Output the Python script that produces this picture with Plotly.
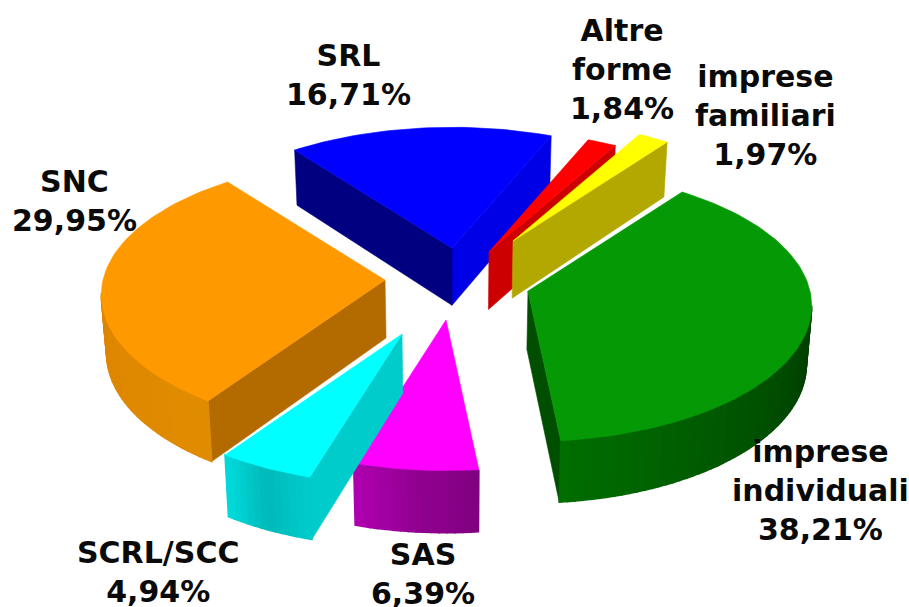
import numpy as np
import plotly.graph_objects as go

# --- data ---
names = ["imprese<br>individuali", "SAS", "SCRL/SCC", "SNC", "SRL", "Altre<br>forme", "imprese<br>familiari"]
values = [38.21, 6.39, 4.94, 29.95, 16.71, 1.84, 1.97]
value_text = ["38,21%", "6,39%", "4,94%", "29,95%", "16,71%", "1,84%", "1,97%"]

# --- style ---
top_colors = ["#059a05", "#ff00ff", "#00ffff", "#ff9900", "#0000ff", "#ff0000", "#ffff00"]
start_face = ["#004f00", "#a000a0", "#00cccc", "#b36b00", "#000080", "#cc0000", "#b3a800"]
end_face = ["#004f00", "#800080", "#00cccc", "#b36b00", "#0000e6", "#cc0000", "#b3a800"]
arc_from = [(0, 85, 0), (128, 0, 128), (0, 205, 205), (224, 140, 0), (0, 0, 130), (170, 0, 0), (180, 170, 0)]
arc_mid = [(0, 64, 0), (145, 0, 145), (0, 185, 185), (222, 132, 0), (0, 0, 130), (170, 0, 0), (180, 170, 0)]
arc_to = [(0, 110, 0), (176, 0, 176), (0, 220, 220), (215, 135, 0), (0, 0, 130), (170, 0, 0), (180, 170, 0)]

# --- layout of the exploded pie, in page pixels ---
apex_x = [528, 446, 402, 385, 452, 489, 513]
apex_y = [291, 320, 334, 280, 248, 252, 241]
label_x = [820, 423, 158, 74, 348, 622, 765]
label_y = [490, 574, 572, 201, 75, 69, 115]
START_DEG = 53.5
RX, RY, PERSP = 282.0, 134.0, 0.11
W, H = 909, 607


def project(ax, ay, deg):
    t = np.radians(deg)
    u, v = np.cos(t), np.sin(t)
    s = 1.0 / (1.0 + PERSP * v)
    return ax + RX * u * s, ay - RY * v * s


def drop(x, y):
    return W / 2 + (x - W / 2) * 0.985, y + 55 + (y - 143) * 0.022


def hexcol(c):
    return "#%02x%02x%02x" % tuple(int(round(k)) for k in c)


fig = go.Figure()


def poly(xs, ys, color, lw=0.6):
    fig.add_trace(go.Scatter(x=list(xs) + [xs[0]], y=list(ys) + [ys[0]], mode="lines", fill="toself",
                             fillcolor=color, line=dict(color=color, width=lw), hoverinfo="skip",
                             showlegend=False))


def outward_down(a, b, inside):
    dx, dy = b[0] - a[0], b[1] - a[1]
    nx, ny = -dy, dx
    if nx * (inside[0] - a[0]) + ny * (inside[1] - a[1]) > 0:
        ny = -ny
    return ny > 0


total = sum(values)
angle = START_DEG
for i, val in enumerate(values):
    sweep = val / total * 360.0
    ax, ay = apex_x[i], apex_y[i]
    deg = np.linspace(angle, angle - sweep, max(4, int(sweep / 1.5) + 2))
    pts = [project(ax, ay, d) for d in deg]
    mid = project(ax, ay, angle - sweep / 2)
    inner = ((ax + mid[0]) / 2, (ay + mid[1]) / 2)

    # radial faces, back one first
    faces = [(pts[0], start_face[i]), (pts[-1], end_face[i])]
    faces.sort(key=lambda f: f[0][1])
    for p, col in faces:
        if outward_down((ax, ay), p, inner):
            b1 = drop(ax, ay)
            b2 = drop(*p)
            poly([ax, p[0], b2[0], b1[0]], [ay, p[1], b2[1], b1[1]], col)

    # rim, shaded along its length
    n = len(pts) - 1
    for k in range(n):
        a, b = pts[k], pts[k + 1]
        if not outward_down(a, b, (ax, ay)):
            continue
        f = (k + 0.5) / n
        c0, c1, c2 = arc_from[i], arc_mid[i], arc_to[i]
        if f < 0.5:
            col = [c0[j] + (c1[j] - c0[j]) * f * 2 for j in range(3)]
        else:
            col = [c1[j] + (c2[j] - c1[j]) * (f - 0.5) * 2 for j in range(3)]
        a2, b2 = drop(*a), drop(*b)
        poly([a[0], b[0], b2[0], a2[0]], [a[1], b[1], b2[1], a2[1]], hexcol(col), lw=1.5)

    # top surface
    poly([ax] + [p[0] for p in pts], [ay] + [p[1] for p in pts], top_colors[i])
    angle -= sweep

for i in range(len(values)):
    fig.add_annotation(x=label_x[i], y=label_y[i], text=names[i] + "<br>" + value_text[i],
                       showarrow=False, xanchor="center", yanchor="middle", align="center",
                       font=dict(family="DejaVu Sans", size=30, color="#0a0a0a", weight="bold"))

fig.update_layout(width=W, height=H, margin=dict(l=0, r=0, t=0, b=0),
                  paper_bgcolor="white", plot_bgcolor="white", showlegend=False,
                  xaxis=dict(range=[0, W], visible=False, fixedrange=True),
                  yaxis=dict(range=[H, 0], visible=False, fixedrange=True))
fig.write_html("out.html", config={"displayModeBar": False},
               default_width="909px", default_height="607px",
               post_script="document.body.style.margin='0';document.body.style.overflow='hidden';")
